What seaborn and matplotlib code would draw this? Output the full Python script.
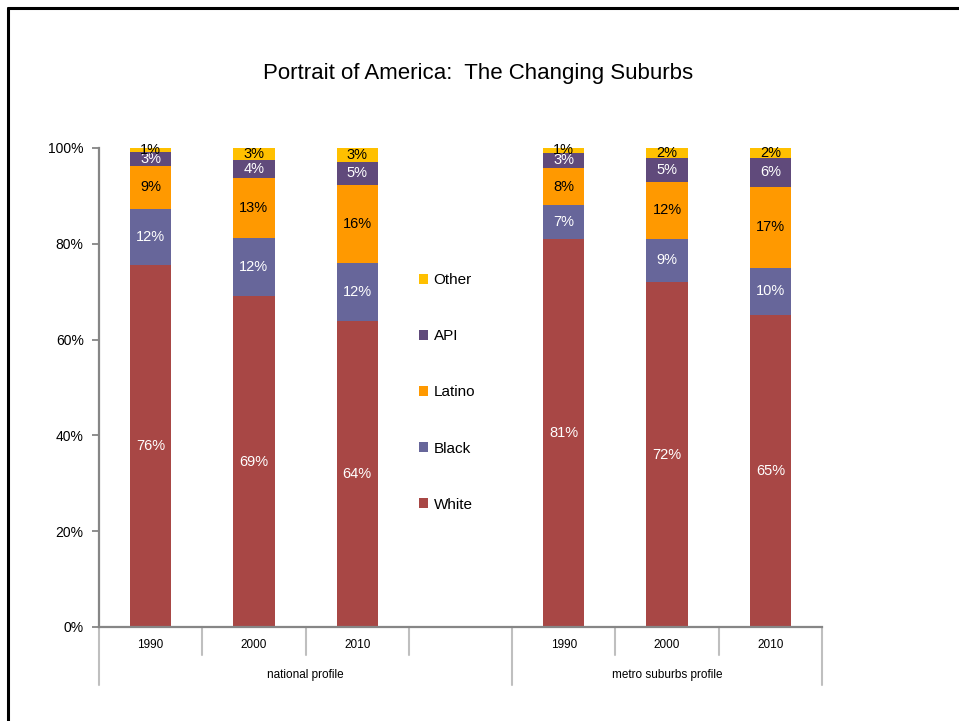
import numpy as np
import pandas as pd
import matplotlib
matplotlib.use("Agg")
import matplotlib.pyplot as plt
from matplotlib.lines import Line2D
from matplotlib.patches import Patch
import matplotlib.transforms as mtransforms
import seaborn as sns

# ---- data (shares of population, %) ----
title = "Portrait of America:  The Changing Suburbs"
years = ["1990", "2000", "2010", "1990", "2000", "2010"]
profiles = ["national profile"] * 3 + ["metro suburbs profile"] * 3
races = ["White", "Black", "Latino", "API", "Other"]
white = [75.6, 69.1, 63.9, 81.1, 72.0, 65.1]
black = [11.7, 12.1, 12.1, 6.9, 9.1, 9.9]
latino = [9.0, 12.6, 16.3, 7.9, 11.9, 16.9]
api = [2.9, 3.6, 4.8, 3.1, 5.0, 6.1]
other = [0.8, 2.6, 2.9, 1.0, 2.0, 2.0]
y_ticks = [0, 20, 40, 60, 80, 100]

colors = {"White": "#A84745", "Black": "#67669A", "Latino": "#FF9900",
          "API": "#604A7B", "Other": "#FFC000"}
label_colors = {"White": "white", "Black": "white", "Latino": "black",
                "API": "white", "Other": "black"}

sns.set_style("white")
plt.rcParams["font.family"] = ["Liberation Sans", "DejaVu Sans"]
plt.rcParams["text.color"] = "black"

df = pd.DataFrame({"year": years, "profile": profiles, "White": white,
                   "Black": black, "Latino": latino, "API": api, "Other": other})
df["slot"] = df["profile"] + " " + df["year"]
cum = df[races].cumsum(axis=1)
for r in races:
    df["top_" + r] = cum[r]

# empty slot separates the two profiles
slot_order = list(df["slot"][:3]) + ["gap"] + list(df["slot"][3:])

fig = plt.figure(figsize=(9.59, 7.21), dpi=100)
ax = fig.add_axes([99 / 959, 1 - 627 / 721, (822 - 99) / 959, (627 - 148) / 721])

# stacked bars: draw cumulative tops from highest layer down
for r in reversed(races):
    sns.barplot(data=df, x="slot", y="top_" + r, order=slot_order, color=colors[r],
                width=0.4, saturation=1, errorbar=None, linewidth=0,
                edgecolor="none", ax=ax)

# value labels centred in each segment
for _, row in df.iterrows():
    xi = slot_order.index(row["slot"])
    for r in races:
        v = row[r]
        ax.text(xi, row["top_" + r] - v / 2, f"{v:.0f}%", ha="center", va="center",
                fontsize=10.5, color=label_colors[r])

ax.set_xlim(-0.5, len(slot_order) - 0.5)
ax.set_ylim(0, 100)
ax.set_yticks(y_ticks)
ax.set_yticklabels([f"{t}%" for t in y_ticks])
ax.set_xticks([])
ax.set_xlabel("")
ax.set_ylabel("")
for s in ["top", "right"]:
    ax.spines[s].set_visible(False)
for s in ["left", "bottom"]:
    ax.spines[s].set_color("#868686")
    ax.spines[s].set_linewidth(1.6)
ax.tick_params(axis="y", left=True, length=5, width=1.3, color="#868686", pad=6,
               labelsize=10, labelcolor="black")

# two-level category axis
trans = mtransforms.blended_transform_factory(ax.transData, ax.transAxes)
short_sep = -28 / 479
long_sep = -58 / 479
group_bounds = [(-0.5, 3.5, "national profile"), (3.5, 6.5, "metro suburbs profile")]
for i in range(len(slot_order) + 1):
    xb = i - 0.5
    is_long = xb in (-0.5, 3.5, 6.5)
    ax.add_line(Line2D([xb, xb], [0, long_sep if is_long else short_sep], transform=trans,
                       color="#BFBFBF", lw=1.5, clip_on=False))
for xi, slot in enumerate(slot_order):
    if slot == "gap":
        continue
    yr = df.loc[df["slot"] == slot, "year"].iloc[0]
    ax.text(xi, -18 / 479, yr, transform=trans, ha="center", va="center", fontsize=8.5)
for x0, x1, name in group_bounds:
    ax.text((x0 + x1) / 2, -48 / 479, name, transform=trans, ha="center", va="center",
            fontsize=8.5)

# legend
handles = [Patch(facecolor=colors[r], edgecolor="none") for r in reversed(races)]
ax.legend(handles, list(reversed(races)), loc="center left",
          bbox_to_anchor=(419 / 959, 1 - 392.5 / 721), bbox_transform=fig.transFigure,
          frameon=False, fontsize=11, labelspacing=2.75, handlelength=0.6,
          handleheight=0.6, handletextpad=0.35, borderpad=0, borderaxespad=0)

fig.text(478 / 959, 1 - 73 / 721, title, ha="center", va="center", fontsize=16,
         color="black")

# outer frame lines
fig.add_artist(Line2D([8 / 959, 8 / 959], [0, 1 - 8 / 721], transform=fig.transFigure,
                      color="black", lw=2.2))
fig.add_artist(Line2D([8 / 959, 1], [1 - 8 / 721, 1 - 8 / 721], transform=fig.transFigure,
                      color="black", lw=2.2))

fig.savefig("out.png", dpi=100)
